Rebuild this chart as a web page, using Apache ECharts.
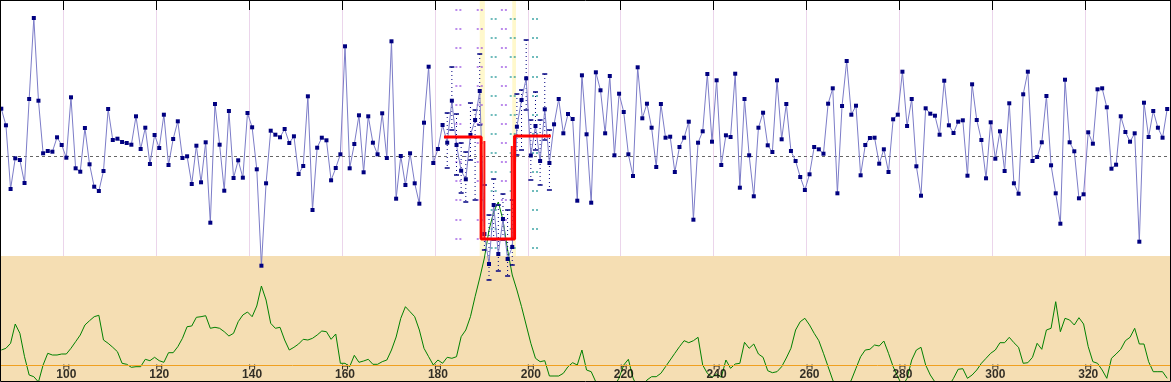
<!DOCTYPE html>
<html><head><meta charset="utf-8">
<script src="https://cdn.jsdelivr.net/npm/echarts@6/dist/echarts.min.js"></script>
<style>html,body{margin:0;padding:0;background:#fff}#c{width:1171px;height:382px}</style>
</head><body><div id="c"></div>
<script>
// ---- data (y values are depth-like: measured downward, axis is inverted) ----
const xStart = 86;
const blueValues = [
108.7,125.3,189,158.3,160,183,99,18,100.7,153.3,
151,151.7,137.3,145,157.7,97.3,168.3,171.7,128,164.3,
186.7,191,171,109,140,138.7,142,143,144.7,116.3,
149,127.7,164,135,148,114.7,165,139,121.3,158,
156.3,184,145.7,182.3,142.3,222.7,104,144.7,190.7,111,
178,160.3,177.7,113,127.3,169.3,265.7,183.3,130.7,134.7,
137.3,129,143,136.3,174,166,96.3,210,147.7,137.7,
140.3,180.3,168,154.3,46.3,168.3,144,115.3,172.3,116.3,
142.7,154.3,113.3,158,41.3,198.7,156,185,153.3,183.3,
203.7,122.7,66.7,163,149,125,142.7,100.7,145,170.7,
179.3,135,120,91,234,264,205,254,219,259,
247,126.7,100,78.3,155.5,126,161,109.3,163,124.3,
99,133.3,114,119,200.7,75.3,134.3,202.7,72.3,90.3,
133.3,76,155.3,93.7,112,154.3,176,67.3,118.3,103.7,
127.7,167,104,137.7,136.7,172,147,137.7,121.7,219.7,
142.7,131.3,74,141.7,80.3,165,135.3,137,73.7,187.7,
99,155.3,196.3,127.7,112.7,145.3,152,80.3,139.3,104,
151,161,177,190,174.3,147,149.3,153.7,103.7,88.3,
193.3,106,61,114.7,105.7,175.3,145,138,137.7,163.7,
149.3,172,119.3,114.7,71.7,126,99,166.3,195.7,108.3,
113.7,115.7,134.7,80.7,125.3,133,121.7,120.3,175.7,84.3,
120,140,178.3,122.3,158.7,131.3,171,103.3,183.3,193.7,
94.3,71.7,161,157,142.3,96,165.3,193.3,223.7,79.7,
142.3,151.3,198.3,194.3,132.3,143.7,89.3,88.3,107.3,168.7,
164.7,116.3,132,141.7,133.3,241.7,102.7,137,111,127.7,
137.7,109
];
const greenValues = [
350,348.3,343.3,324,333.3,356.7,375,376.7,382,365,
353.3,355,355,354,354,348.3,341.7,335,325,320.7,
316.7,315.3,340,343.3,347.3,351.7,363.3,364.3,367.3,366.7,
366.7,359.3,360.7,357.3,360.7,362.3,352.7,352.7,346.7,338.3,
326.7,326,317.3,316.7,315.7,328.3,327.3,328.3,331.7,336,
333.3,321.7,315,312,316.7,306,286,300,323.3,328.3,
327.3,340,350,347.3,344,339.3,340,338.3,335,331,
331.7,339.3,334,363.3,363.3,366.7,355.3,362.3,361,359.3,
364.3,364.3,361.7,360,350,337,318.3,306.7,311.7,316.7,
330,348.3,356.7,365,360,363.3,357.3,358.3,356.7,336.7,
330,316.7,296.7,278,258,230,212,202,220,250,
275,290,306.7,325,343.3,358.3,361.7,360.7,376,376,
376,373.3,366.7,362.7,365,350,370,371.7,382,390,
392,390,386,378,365,359.3,378,388,388,380,
376.7,376.7,373.3,366.7,360,353.3,346.7,340.7,342.7,340.7,
337.3,365,373.3,377.3,374,377.3,360,368.3,364,363.3,
342.3,348.3,344,354,357.3,370.7,372.7,371.7,366.7,358,
348.3,330,321.7,318.3,325,333.3,340.7,353.3,366.7,380,
390,392,388,380,368.3,356.7,350,349.3,345,346,
341,353.3,366.7,376.7,386,378.3,360,350,347.3,365,
375,382,390,390,386,378.3,369.3,368.7,378.3,375,
370,363.3,358.3,353.3,350,342.7,342.7,337.3,342.7,347.3,
363.3,362.7,357.3,343.3,349.3,330,328.3,301.7,331.7,318.3,
320,325,317.7,324,346.7,361.7,363.3,370,378.3,358.3,
354,349.3,340.7,337.3,328.3,344,344,361.7,371.7,371.7,
371.7,378.3
];
const tickValues = [100,120,140,160,180,200,220,240,260,280,300,320];
const meanLevel = 156;
const baseLevel = 365.3;
const zoneTop = 256;
const errX  = [182,183,184,185,186,187,188,189,190,191,192,193,194,195,196,197,198,199,200,201,202,203,204];
const errHi = [113,67,114,143,152,103,110,54,185,215,179,205,194,210,200,94,90,40,120,92,120,74,130];
const errLo = [168,130,175,193,202,160,200,125,250,280,240,271,240,276,265,155,150,110,180,150,185,140,190];
const stepX = [181.3,189.3,196.5,204.3];
const stepY = [137,239,136,136];
const innerX = [190.0,190.0,195.9,195.9];
const innerY = [141,239,239,146];
const bandX = [[189.0,190.1],[196.0,196.8]];
const purpleCols = [184.4,189.0,194.2];
const purpleRows = [10,29,48,67,86,105,124,143,162,181,200,220,239];
const tealCols = [192.0,196.1,200.9];
const tealRows = [19,38,57,77,96,115,134,153,172,191,210,229,248];

// ---- build ----
const blueData = blueValues.map((v,i)=>[xStart+i, v]);
const greenData = greenValues.map((v,i)=>[xStart+i, v]);
const errData = errX.map((x,i)=>[x, errHi[i], errLo[i]]);
const stepData = stepX.map((x,i)=>[x, stepY[i]]);
const innerData = innerX.map((x,i)=>[x, innerY[i]]);
const purpleData = [], tealData = [];
purpleCols.forEach(c=>purpleRows.forEach(r=>purpleData.push([c,r])));
tealCols.forEach(c=>tealRows.forEach(r=>tealData.push([c,r])));
const tickMarks = tickValues.map(v=>[v, 367]);
const tickLabelData = tickValues.map(v=>[v, 381]);

// layout: 4.645 px per x unit; x=85.72 at the left border
const PX = 4.645, xLeft = 85.72, W = 1170;
const xMax = xLeft + W/PX;
const guideShift = 0.65;

const chart = echarts.init(document.getElementById('c'), null, {renderer:'canvas'});
chart.setOption({
  animation:false,
  backgroundColor:'#fff',
  grid:{left:0,right:1,top:0,bottom:1,show:false},
  xAxis:[
    {type:'value',min:xLeft,max:xMax,splitNumber:13,position:'bottom',
     axisLine:{show:false},axisTick:{show:false},splitLine:{show:false},axisLabel:{show:false}},
    {type:'value',min:xLeft+guideShift,max:xMax+guideShift,splitNumber:13,position:'top',
     axisLine:{show:false},
     axisTick:{show:true,inside:true,length:10,lineStyle:{color:'#000',width:1}},
     axisLabel:{show:false},
     splitLine:{show:true,showMinLine:false,showMaxLine:false,lineStyle:{color:'#ebd5eb',width:1}}}
  ],
  yAxis:{type:'value',min:0,max:381,inverse:true,show:false},
  graphic:[{type:'rect',z:100,silent:true,shape:{x:0.5,y:0.5,width:1170,height:381},style:{fill:null,stroke:'#000',lineWidth:1}}],
  series:[
    {type:'line',z:-5,data:[],silent:true,
     markArea:{silent:true,data:[
       [{yAxis:zoneTop,itemStyle:{color:'#f5deb3',opacity:1}},{yAxis:381}],
       [{xAxis:bandX[0][0],yAxis:0,itemStyle:{color:'#fff8cc',opacity:1}},{xAxis:bandX[0][1],yAxis:zoneTop}],
       [{xAxis:bandX[1][0],yAxis:0,itemStyle:{color:'#fff8cc',opacity:1}},{xAxis:bandX[1][1],yAxis:zoneTop}]
     ]}},
    {type:'line',z:1,data:[],silent:true,
     markLine:{silent:true,symbol:'none',label:{show:false},data:[
       {yAxis:meanLevel,lineStyle:{color:'#666',type:[3,3],width:1}},
       {yAxis:baseLevel,lineStyle:{color:'#f0a020',type:'solid',width:1}}
     ]}},
    {name:'green',type:'line',z:2,data:greenData,showSymbol:false,clip:true,
     lineStyle:{color:'#008000',width:1}},
    {name:'tickmarks',type:'scatter',z:3,data:tickMarks,silent:true,
     symbol:'path://M0 0h1v5h-1zM5 0h1v5h-1zM0 1h6v1h-6z',symbolSize:[6,5],
     itemStyle:{color:'#000'}},
    {name:'ticklabels',type:'scatter',z:3,data:tickLabelData,silent:true,symbolSize:0,
     label:{show:true,position:'top',distance:0,formatter:p=>String(p.value[0]),color:'#000',
       fontFamily:'Liberation Sans, Arial, sans-serif',fontWeight:'bold',fontSize:12}},
    {name:'purple',type:'scatter',z:3,data:purpleData,silent:true,
     symbol:'path://M0 0h2v1h-2zM4 0h2v1h-2z',symbolSize:[6,1.3],itemStyle:{color:'#9040e0'}},
    {name:'teal',type:'scatter',z:3,data:tealData,silent:true,
     symbol:'path://M0 0h2v1h-2zM4 0h2v1h-2z',symbolSize:[6,1.3],itemStyle:{color:'#109090'}},
    {name:'range',type:'custom',z:4,data:errData,silent:true,
     renderItem:(params,api)=>{
       const x=api.value(0);
       const a=api.coord([x,api.value(1)]), b=api.coord([x,api.value(2)]);
       const c='#000080';
       return {type:'group',children:[
         {type:'line',shape:{x1:a[0],y1:a[1],x2:b[0],y2:b[1]},style:{stroke:c,lineWidth:1,lineDash:[1,3]}},
         {type:'line',shape:{x1:a[0]-2.5,y1:a[1],x2:a[0]+2.5,y2:a[1]},style:{stroke:c,lineWidth:1.5}},
         {type:'line',shape:{x1:b[0]-2.5,y1:b[1],x2:b[0]+2.5,y2:b[1]},style:{stroke:c,lineWidth:1.5}}
       ]};
     }},
    {name:'blue',type:'line',z:5,data:blueData,showAllSymbol:true,symbol:'rect',symbolSize:4,
     lineStyle:{color:'#7c7cc8',width:1},itemStyle:{color:'#000080'}},
    {name:'inner',type:'line',z:6,data:innerData,showSymbol:false,
     lineStyle:{color:'#ff1010',width:2}},
    {name:'threshold',type:'line',z:7,data:stepData,step:'end',showSymbol:false,
     lineStyle:{color:'#ff0000',width:3}}
  ]
});
</script></body></html>
